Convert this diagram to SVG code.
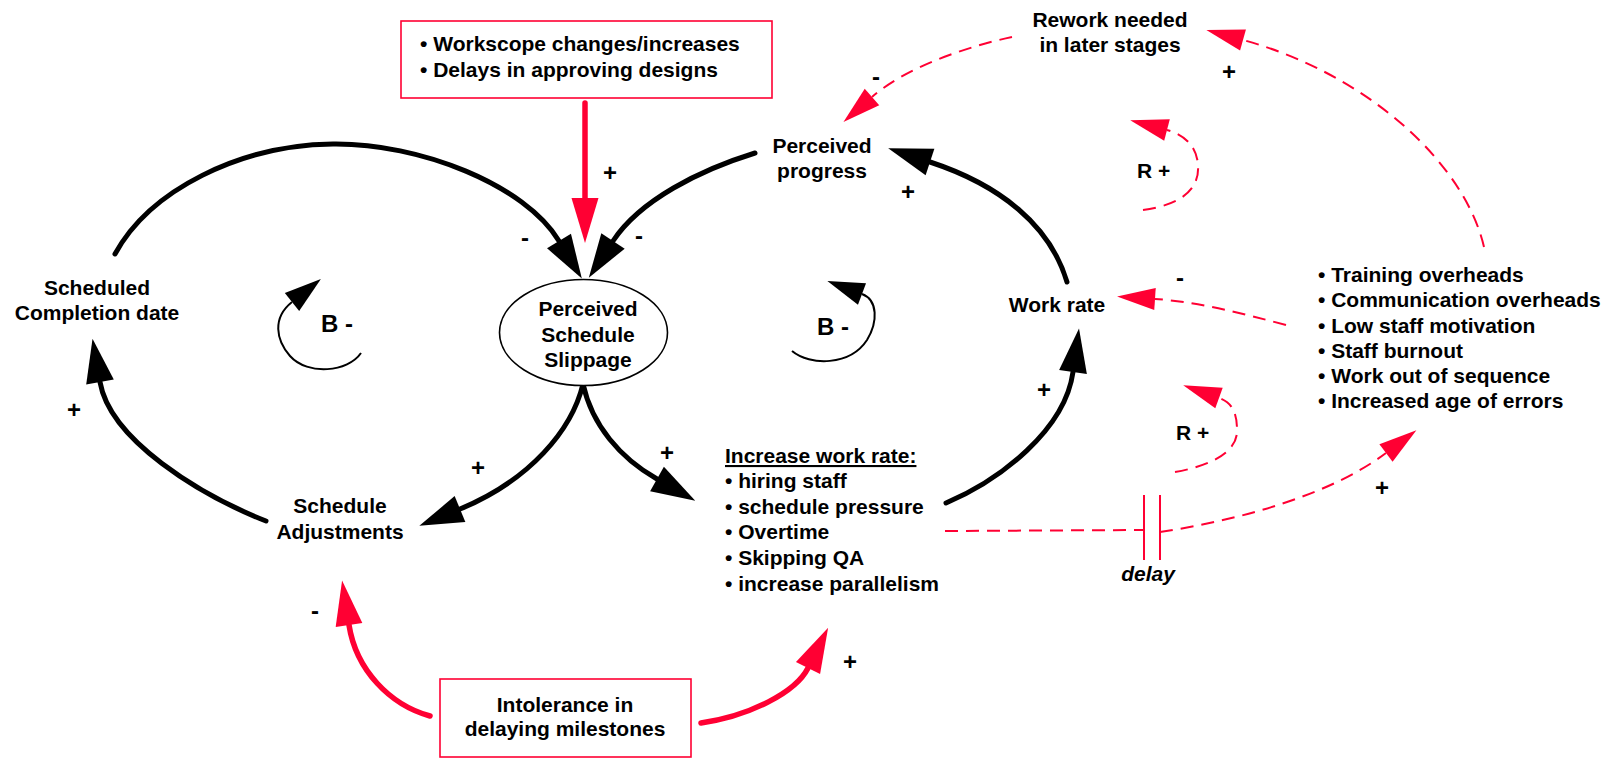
<svg xmlns="http://www.w3.org/2000/svg" width="1610" height="758" viewBox="0 0 1610 758">
<style>
text{font-family:"Liberation Sans",Arial,sans-serif;font-weight:bold;font-size:21px;fill:#000}
.c{text-anchor:middle}
.big{font-size:24px}
.pm{font-size:24px;text-anchor:middle}
.it{font-style:italic}
.box{fill:#fff;stroke:#ff0033;stroke-width:1.6}
.blk{fill:none;stroke:#000;stroke-width:5;stroke-linecap:round}
.red{fill:none;stroke:#ff0033;stroke-width:5.5;stroke-linecap:round}
.dash{fill:none;stroke:#ff0033;stroke-width:2;stroke-dasharray:13 8}
.thin{fill:none;stroke:#000;stroke-width:2}
.dly{stroke:#ff0033;stroke-width:2}
</style>
<defs>
<marker id="ab" markerUnits="userSpaceOnUse" markerWidth="46" markerHeight="30" refX="0" refY="14" orient="auto" overflow="visible"><path d="M0,0 L44,14 L0,28 Z" fill="#000"/></marker>
<marker id="ar" markerUnits="userSpaceOnUse" markerWidth="46" markerHeight="30" refX="0" refY="13.5" orient="auto" overflow="visible"><path d="M0,0 L45,13.5 L0,27 Z" fill="#ff0033"/></marker>
<marker id="ad" markerUnits="userSpaceOnUse" markerWidth="40" markerHeight="24" refX="0" refY="11" orient="auto" overflow="visible"><path d="M0,0 L38,11 L0,22 Z" fill="#ff0033"/></marker>
<marker id="as" markerUnits="userSpaceOnUse" markerWidth="40" markerHeight="24" refX="0" refY="11.5" orient="auto" overflow="visible"><path d="M0,0 L37,11.5 L0,23 Z" fill="#000"/></marker>
</defs>
<rect width="1610" height="758" fill="#fff"/>
<g id="connectors">
<path class="blk" d="M115,254 C150,190 240,145 333,144 C420,143 525,185 559,241" marker-end="url(#ab)"/>
<path class="blk" d="M755,153 C700,170 640,200 613,241" marker-end="url(#ab)"/>
<path class="red" d="M585,103 L585,198" stroke-linecap="butt" marker-end="url(#ar)"/>
<path class="blk" d="M1067,282 C1050,225 1000,185 930,162" marker-end="url(#ab)"/>
<path class="blk" d="M946,503 C1000,480 1065,430 1073,372" marker-end="url(#ab)"/>
<path class="blk" d="M583,384 C572,430 530,480 460,509" marker-end="url(#ab)"/>
<path class="blk" d="M583,384 C592,425 620,458 657,479" marker-end="url(#ab)"/>
<path class="blk" d="M266,521 C200,495 110,440 100,382" marker-end="url(#ab)"/>
<path class="red" d="M430,716 C390,705 356,670 349,625" marker-end="url(#ar)"/>
<path class="red" d="M701,723 C750,716 796,692 808,668" marker-end="url(#ar)"/>
<path class="dash" d="M1012,37 C965,47 905,68 872,97" marker-end="url(#ad)"/>
<path class="dash" d="M1484,247 C1465,165 1370,75 1243,40" marker-end="url(#ad)"/>
<path class="dash" d="M1286,325 C1240,313 1200,302 1155,299" marker-end="url(#ad)"/>
<path class="dash" d="M1143,210 C1180,205 1200,190 1198,165 C1197,148 1186,135 1167,130" marker-end="url(#ad)"/>
<path class="dash" d="M1175,472 C1210,466 1238,452 1237,430 C1237,414 1233,403 1219,398" marker-end="url(#ad)"/>
<path class="dash" d="M945,531 L1143,530"/>
<line class="dly" x1="1144" y1="495" x2="1144" y2="560"/>
<line class="dly" x1="1160" y1="495" x2="1160" y2="560"/>
<path class="dash" d="M1160,532 C1240,520 1330,495 1386,453" marker-end="url(#ad)"/>
<path class="thin" d="M361,353 C348,372 308,376 290,356 C276,340 272,318 292,302" marker-end="url(#as)"/>
<path class="thin" d="M792,351 C810,366 850,366 867,340 C878,322 878,300 862,294" marker-end="url(#as)"/>
</g>
<g id="n-external">
<rect class="box" x="401" y="21" width="371" height="77"/>
<text x="420" y="51">• Workscope changes/increases</text>
<text x="420" y="77">• Delays in approving designs</text>
</g>
<g id="n-slippage">
<ellipse cx="583.5" cy="332.5" rx="84" ry="53" fill="#fff" stroke="#000" stroke-width="1.6"/>
<text class="c" x="588" y="316">Perceived</text>
<text class="c" x="588" y="342">Schedule</text>
<text class="c" x="588" y="367">Slippage</text>
</g>
<g id="n-completion">
<text class="c" x="97" y="295">Scheduled</text>
<text class="c" x="97" y="320">Completion date</text>
</g>
<g id="n-adjust">
<text class="c" x="340" y="513">Schedule</text>
<text class="c" x="340" y="539">Adjustments</text>
</g>
<g id="n-progress">
<text class="c" x="822" y="153">Perceived</text>
<text class="c" x="822" y="178">progress</text>
</g>
<g id="n-rework">
<text class="c" x="1110" y="27">Rework needed</text>
<text class="c" x="1110" y="52">in later stages</text>
</g>
<g id="n-workrate">
<text class="c" x="1057" y="312">Work rate</text>
</g>
<g id="n-increase">
<text x="725" y="463" text-decoration="underline">Increase work rate:</text>
<text x="725" y="488">• hiring staff</text>
<text x="725" y="514">• schedule pressure</text>
<text x="725" y="539">• Overtime</text>
<text x="725" y="565">• Skipping QA</text>
<text x="725" y="591">• increase parallelism</text>
</g>
<g id="n-overheads">
<text x="1318" y="282">• Training overheads</text>
<text x="1318" y="307">• Communication overheads</text>
<text x="1318" y="333">• Low staff motivation</text>
<text x="1318" y="358">• Staff burnout</text>
<text x="1318" y="383">• Work out of sequence</text>
<text x="1318" y="408">• Increased age of errors</text>
</g>
<g id="n-intolerance">
<rect class="box" x="440" y="679" width="251" height="78"/>
<text class="c" x="565" y="712">Intolerance in</text>
<text class="c" x="565" y="736">delaying milestones</text>
</g>
<g id="n-delay">
<text class="c it" x="1148" y="581">delay</text>
</g>
<g id="loop-labels">
<text class="big" x="321" y="332">B -</text>
<text class="big" x="817" y="335">B -</text>
<text x="1137" y="178">R +</text>
<text x="1176" y="440">R +</text>
</g>
<g id="polarity">
<text class="pm" x="610" y="181">+</text>
<text class="pm" x="525" y="246">-</text>
<text class="pm" x="639" y="244">-</text>
<text class="pm" x="908" y="200">+</text>
<text class="pm" x="876" y="85">-</text>
<text class="pm" x="1229" y="80">+</text>
<text class="pm" x="1180" y="286">-</text>
<text class="pm" x="74" y="418">+</text>
<text class="pm" x="478" y="476">+</text>
<text class="pm" x="667" y="461">+</text>
<text class="pm" x="1044" y="398">+</text>
<text class="pm" x="1382" y="496">+</text>
<text class="pm" x="315" y="619">-</text>
<text class="pm" x="850" y="670">+</text>
</g>
</svg>
